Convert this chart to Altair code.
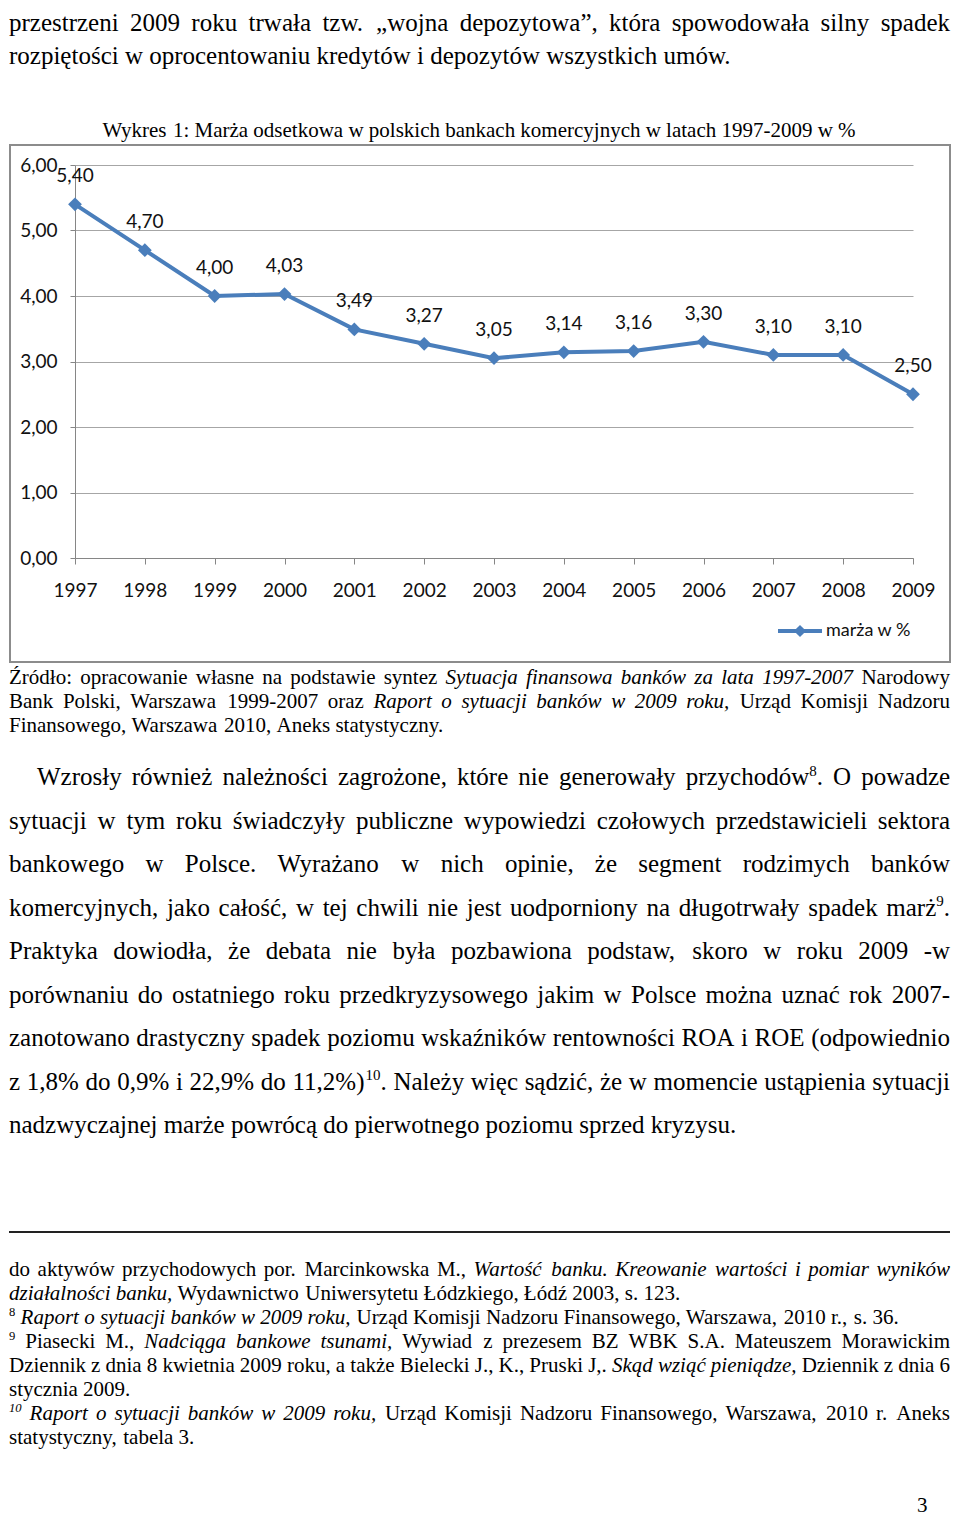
import altair as alt
import pandas as pd

# ---------------- data ----------------
years = [str(y) for y in range(1997, 2010)]
margin = [5.40, 4.70, 4.00, 4.03, 3.49, 3.27, 3.05, 3.14, 3.16, 3.30, 3.10, 3.10, 2.50]
y_ticks = [0, 1, 2, 3, 4, 5, 6]
series_name = "marża w %"
chart_title = "Wykres 1: Marża odsetkowa w polskich bankach komercyjnych w latach 1997-2009 w %"

top_lines = [
    "przestrzeni 2009 roku trwała tzw. „wojna depozytowa”, która spowodowała silny spadek",
    "rozpiętości w oprocentowaniu kredytów i depozytów wszystkich umów.",
]
source_lines = [
    "Źródło: opracowanie własne na podstawie syntez *Sytuacja finansowa banków za lata 1997-2007* Narodowy",
    "Bank Polski, Warszawa 1999-2007 oraz *Raport o sytuacji banków w 2009 roku,* Urząd Komisji Nadzoru",
    "Finansowego, Warszawa 2010, Aneks statystyczny.",
]
para_lines = [
    "Wzrosły również należności zagrożone, które nie generowały przychodów^8^. O powadze",
    "sytuacji w tym roku świadczyły publiczne wypowiedzi czołowych przedstawicieli sektora",
    "bankowego w Polsce. Wyrażano w nich opinie, że segment rodzimych banków",
    "komercyjnych, jako całość, w tej chwili nie jest uodporniony na długotrwały spadek marż^9^.",
    "Praktyka dowiodła, że debata nie była pozbawiona podstaw, skoro w roku 2009 -w",
    "porównaniu do ostatniego roku przedkryzysowego jakim w Polsce można uznać rok 2007-",
    "zanotowano drastyczny spadek poziomu wskaźników rentowności ROA i ROE (odpowiednio",
    "z 1,8% do 0,9% i 22,9% do 11,2%)^10^. Należy więc sądzić, że w momencie ustąpienia sytuacji",
    "nadzwyczajnej marże powrócą do pierwotnego poziomu sprzed kryzysu.",
]
foot_lines = [
    "do aktywów przychodowych por. Marcinkowska M., *Wartość banku. Kreowanie wartości i pomiar wyników*",
    "*działalności banku,* Wydawnictwo Uniwersytetu Łódzkiego, Łódź 2003, s. 123.",
    "^8^ *Raport o sytuacji banków w 2009 roku,* Urząd Komisji Nadzoru Finansowego, Warszawa, 2010 r., s. 36.",
    "^9^ Piasecki M., *Nadciąga bankowe tsunami,* Wywiad z prezesem BZ WBK S.A. Mateuszem Morawickim",
    "Dziennik z dnia 8 kwietnia 2009 roku, a także Bielecki J., K., Pruski J,. *Skąd wziąć pieniądze,* Dziennik z dnia 6",
    "stycznia 2009.",
    "*^10^ Raport o sytuacji banków w 2009 roku,* Urząd Komisji Nadzoru Finansowego, Warszawa, 2010 r. Aneks",
    "statystyczny, tabela 3.",
]
page_number = "3"

# ---------------- layout helpers ----------------
OX, OY = 75, 165           # page position of the plot origin
W_TOTAL, H_TOTAL = 944, 1508
PLOT_W, PLOT_H = 838, 393
BLUE = "#4a7ebb"
SERIF = "Liberation Serif"
SANS = "Lato"

ROMAN = {' ': .25, 'a': .443, 'b': .5, 'c': .443, 'd': .5, 'e': .443, 'f': .333, 'g': .5, 'h': .5,
         'i': .278, 'j': .278, 'k': .5, 'l': .278, 'm': .778, 'n': .5, 'o': .5, 'p': .5, 'q': .5,
         'r': .333, 's': .389, 't': .278, 'u': .5, 'v': .5, 'w': .722, 'x': .5, 'y': .5, 'z': .443,
         'A': .722, 'B': .667, 'C': .667, 'D': .722, 'E': .611, 'F': .556, 'G': .722, 'H': .722,
         'I': .333, 'J': .389, 'K': .722, 'L': .611, 'M': .889, 'N': .722, 'O': .722, 'P': .556,
         'Q': .722, 'R': .667, 'S': .556, 'T': .611, 'U': .722, 'V': .722, 'W': .944, 'X': .722,
         'Y': .722, 'Z': .611, ',': .25, '.': .25, ':': .278, ';': .278, '-': .333, '%': .833,
         '(': .333, ')': .333, '„': .443, '”': .443}
ITAL = {'a': .5, 'b': .5, 'c': .443, 'd': .5, 'e': .443, 'f': .278, 'g': .5, 'h': .5, 'i': .278,
        'j': .278, 'k': .443, 'l': .278, 'm': .722, 'n': .5, 'o': .5, 'p': .5, 'q': .5, 'r': .389,
        's': .389, 't': .278, 'u': .5, 'v': .443, 'w': .667, 'x': .443, 'y': .443, 'z': .389,
        'A': .611, 'B': .611, 'C': .667, 'D': .722, 'E': .611, 'F': .611, 'G': .722, 'H': .722,
        'I': .333, 'J': .443, 'K': .667, 'L': .556, 'M': .833, 'N': .667, 'O': .722, 'P': .611,
        'Q': .722, 'R': .611, 'S': .5, 'T': .556, 'U': .722, 'V': .611, 'W': .833, 'X': .611,
        'Y': .556, 'Z': .556}
POLISH = {'ą': 'a', 'ę': 'e', 'ć': 'c', 'ł': 'l', 'ń': 'n', 'ó': 'o', 'ś': 's', 'ź': 'z', 'ż': 'z',
          'Ł': 'L', 'Ś': 'S', 'Ź': 'Z', 'Ż': 'Z', 'Ó': 'O'}


def char_w(ch, italic):
    b = POLISH.get(ch, ch)
    if italic and b in ITAL:
        return ITAL[b]
    if b in ROMAN:
        return ROMAN[b]
    return 0.5


def parse(markup):
    words, cur, buf = [], [], []
    state = {'i': False, 's': False}

    def style():
        return ('i' if state['i'] else 'n') + ('s' if state['s'] else '')

    def flush():
        if buf:
            cur.append((''.join(buf), style()))
            buf.clear()

    for ch in markup:
        if ch == '*':
            flush(); state['i'] = not state['i']
        elif ch == '^':
            flush(); state['s'] = not state['s']
        elif ch == ' ':
            flush()
            if cur:
                words.append(list(cur)); cur.clear()
        else:
            buf.append(ch)
    flush()
    if cur:
        words.append(list(cur))
    return words


def run_w(text, st, size):
    fs = size * 0.6 if 's' in st else size
    return sum(char_w(c, st.startswith('i')) for c in text) * fs


rows = []


def typeset(markup, y, size, x0, x1=None, mode='left'):
    words = parse(markup)
    widths = [sum(run_w(t, st, size) for t, st in w) for w in words]
    n = len(words)
    gap = 0.25 * size
    if mode == 'justify' and n > 1:
        gap = (x1 - x0 - sum(widths)) / (n - 1)
    x = x0
    if mode == 'center':
        x = x0 - (sum(widths) + gap * (n - 1)) / 2
    for w, ww in zip(words, widths):
        cx = x
        for t, st in w:
            sup = 's' in st
            rows.append(dict(px=cx - OX, py=y - OY - (size * 0.38 if sup else 0), text=t,
                             size=size * 0.6 if sup else size, italic=st.startswith('i')))
            cx += run_w(t, st, size)
        x += ww + gap


BODY, SMALL = 25, 21
LEFT, RIGHT = 9, 950

typeset(top_lines[0], 31, BODY, LEFT, RIGHT, 'justify')
typeset(top_lines[1], 64, BODY, LEFT)
typeset(chart_title, 137, SMALL, 479, mode='center')
for i, ln in enumerate(source_lines):
    last = i == len(source_lines) - 1
    typeset(ln, 684 + 24 * i, SMALL, LEFT, RIGHT, 'left' if last else 'justify')
for i, ln in enumerate(para_lines):
    last = i == len(para_lines) - 1
    typeset(ln, 785 + 43.5 * i, BODY, 37 if i == 0 else LEFT, RIGHT, 'left' if last else 'justify')
for i, ln in enumerate(foot_lines):
    ragged = i in (1, 2, 5, 7)
    typeset(ln, 1276 + 24 * i, SMALL, LEFT, RIGHT, 'left' if ragged else 'justify')
typeset(page_number, 1512, SMALL, 917)

words_df = pd.DataFrame(rows)
roman_df = words_df[~words_df['italic']]
ital_df = words_df[words_df['italic']]


def text_layer(df, italic):
    kw = dict(font=SERIF, align='left', baseline='alphabetic', color='#000000')
    if italic:
        kw['fontStyle'] = 'italic'
    return alt.Chart(df).mark_text(**kw).encode(
        x=alt.X('px:Q', scale=None, axis=None),
        y=alt.Y('py:Q', scale=None, axis=None),
        text='text:N',
        size=alt.Size('size:Q', scale=None, legend=None),
    )


# ---------------- line chart ----------------
df = pd.DataFrame({'year': years, 'value': margin})
base = alt.Chart(df).encode(
    x=alt.X('year:O', sort=years, scale=alt.Scale(type='point', padding=0),
            axis=alt.Axis(title=None, labelAngle=0, labelFont=SANS, labelFontSize=19,
                          labelColor='#111111', labelPadding=17, tickSize=6,
                          tickColor='#868686', domainColor='#868686', grid=False)),
    y=alt.Y('value:Q', scale=alt.Scale(domain=[0, 6], nice=False),
            axis=alt.Axis(title=None, values=y_ticks, grid=True, gridColor='#a6a6a6',
                          labelExpr="replace(format(datum.value, '.2f'), '.', ',')",
                          labelFont=SANS, labelFontSize=19, labelColor='#111111',
                          labelPadding=13, tickSize=5, tickColor='#868686',
                          domainColor='#868686')),
)
line = base.mark_line(color=BLUE, strokeWidth=4)
pts = base.mark_point(shape='diamond', filled=True, size=190, color=BLUE, opacity=1)
labs = base.transform_calculate(
    lab="replace(format(datum.value, '.2f'), '.', ',')"
).mark_text(dy=-28, font=SANS, fontSize=19, color='#111111').encode(text='lab:N')
plot = alt.layer(line, pts, labs)

one = pd.DataFrame({'k': [0]})
frame = alt.Chart(one).mark_rect(fillOpacity=0, stroke='#8c8c8c', strokeWidth=2).encode(
    x=alt.value(10 - OX), x2=alt.value(950 - OX), y=alt.value(145 - OY), y2=alt.value(662 - OY))
leg_line = alt.Chart(one).mark_rule(color=BLUE, strokeWidth=4).encode(
    x=alt.value(778 - OX), x2=alt.value(822 - OX), y=alt.value(631 - OY))
leg_pt = alt.Chart(one).mark_point(shape='diamond', filled=True, size=150, color=BLUE, opacity=1).encode(
    x=alt.value(800 - OX), y=alt.value(631 - OY))
leg_txt = alt.Chart(one).mark_text(font=SANS, fontSize=18, align='left', baseline='middle',
                                   color='#111111').encode(
    x=alt.value(826 - OX), y=alt.value(631 - OY), text=alt.value(series_name))
sep = alt.Chart(one).mark_rule(color='#222222', strokeWidth=2).encode(
    x=alt.value(LEFT - OX), x2=alt.value(RIGHT - OX), y=alt.value(1232 - OY))

chart = alt.layer(
    frame, plot, leg_line, leg_pt, leg_txt, sep,
    text_layer(roman_df, False), text_layer(ital_df, True)
).resolve_scale(x='independent', y='independent').properties(
    width=PLOT_W, height=PLOT_H,
    autosize=alt.AutoSizeParams(type='none'),
    padding={'left': OX - 8, 'top': OY - 8, 'right': W_TOTAL - (OX - 8) - PLOT_W,
             'bottom': H_TOTAL - (OY - 8) - PLOT_H},
    background='white',
).configure_view(stroke='transparent')

chart.save("out.html", embed_options={"renderer": "svg", "actions": False})
